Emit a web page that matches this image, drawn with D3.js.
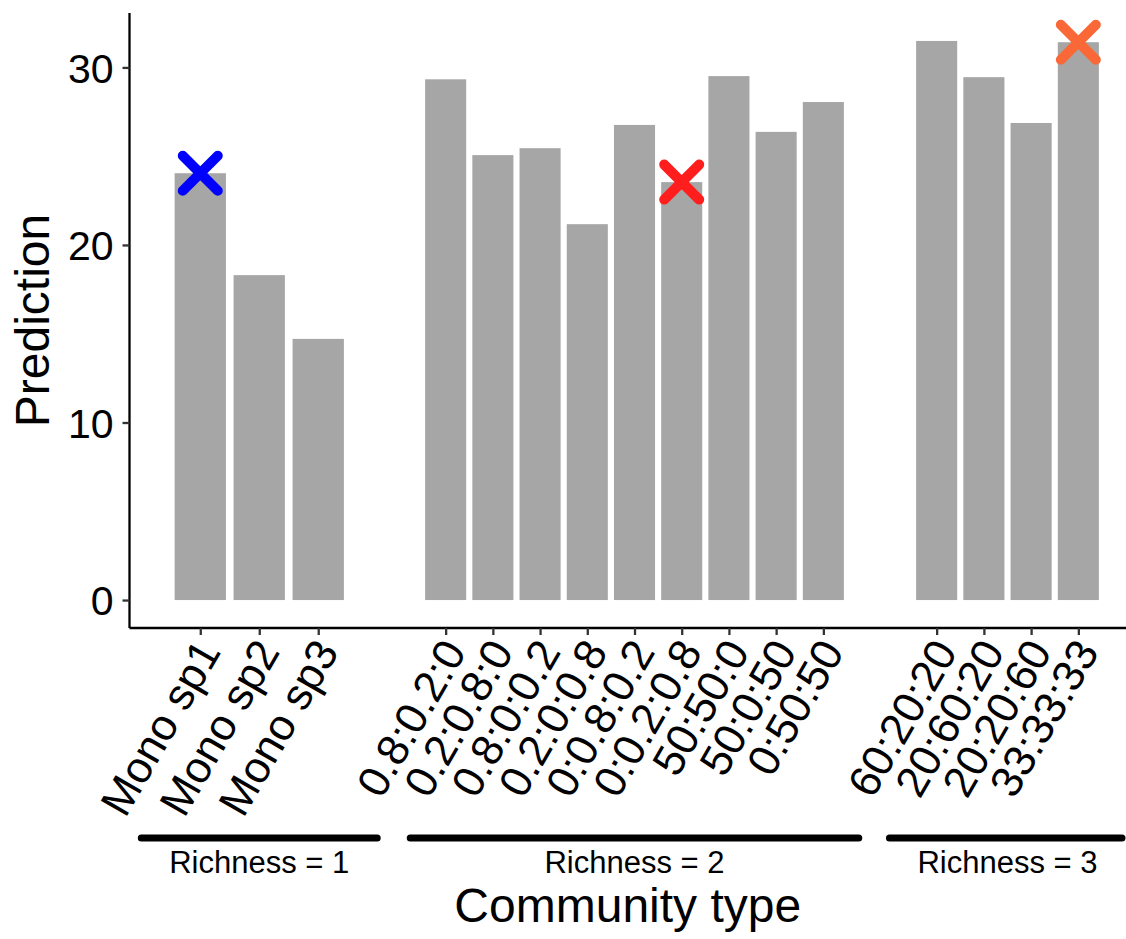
<!DOCTYPE html>
<html>
<head>
<meta charset="utf-8">
<script src="https://cdn.jsdelivr.net/npm/d3@7/dist/d3.min.js"></script>
<style>
  html, body { margin: 0; padding: 0; background: #fff; }
  svg { display: block; font-family: "Liberation Sans", Arial, sans-serif; }
</style>
</head>
<body>
<svg id="chart" width="1126" height="939"></svg>
<script>
// ---- data ----
const groupLabels = ["Richness = 1", "Richness = 2", "Richness = 3"];
const categories1 = ["Mono sp1", "Mono sp2", "Mono sp3"];
const values1 = [24.04, 18.30, 14.71];
const categories2 = ["0.8:0.2:0", "0.2:0.8:0", "0.8:0:0.2", "0.2:0:0.8", "0:0.8:0.2", "0:0.2:0.8", "50:50:0", "50:0:50", "0:50:50"];
const values2 = [29.33, 25.06, 25.45, 21.17, 26.76, 23.54, 29.51, 26.37, 28.05];
const categories3 = ["60:20:20", "20:60:20", "20:20:60", "33:33:33"];
const values3 = [31.49, 29.45, 26.87, 31.42];
const markerGroups = [0, 1, 2];
const markerCategories = ["Mono sp1", "0:0.2:0.8", "33:33:33"];
const markerValues = [24.04, 23.54, 31.42];
const markerColors = ["#0000FF", "#FF1E1E", "#FA6838"];
const yTicks = [0, 10, 20, 30];
const yTitle = "Prediction";
const xTitle = "Community type";

// ---- layout ----
const W = 1126, H = 939;
const plotLeft = 129.5, plotTop = 13, plotBottom = 628;
const panelEdges = [129.5, 389, 880, 1135];
const bracketExt = [1.0, 0.75, 1.0];   // bracket overhang in category steps
const barFrac = 0.87;

const svg = d3.select("#chart");

const allValues = values1.concat(values2, values3);
const vmax = d3.max(allValues);
const y = d3.scaleLinear()
  .domain([-0.05 * vmax, vmax * 1.05])
  .range([plotBottom, plotTop]);

const groups = [
  { cats: categories1, vals: values1 },
  { cats: categories2, vals: values2 },
  { cats: categories3, vals: values3 }
];
groups.forEach((g, i) => {
  g.x = d3.scalePoint().domain(g.cats).range([panelEdges[i], panelEdges[i + 1]]).padding(1.2);
  g.bw = g.x.step() * barFrac;
});

// bars
groups.forEach((g, i) => {
  svg.append("g").selectAll("rect")
    .data(g.cats.map((c, j) => ({ c, v: g.vals[j] })))
    .join("rect")
    .attr("x", d => g.x(d.c) - g.bw / 2)
    .attr("width", g.bw)
    .attr("y", d => y(d.v))
    .attr("height", d => y(0) - y(d.v))
    .attr("fill", "#A6A6A6");
});

// markers (X)
const mk = 17.5;
markerGroups.forEach((gi, k) => {
  const g = groups[gi];
  const cx = g.x(markerCategories[k]);
  const cy = y(markerValues[k]);
  svg.append("path")
    .attr("d", `M${cx - mk},${cy - mk}L${cx + mk},${cy + mk}M${cx - mk},${cy + mk}L${cx + mk},${cy - mk}`)
    .attr("stroke", markerColors[k])
    .attr("stroke-width", 10)
    .attr("stroke-linecap", "round")
    .attr("fill", "none");
});

// y axis
const yAxis = d3.axisLeft(y).tickValues(yTicks).tickSize(7).tickPadding(9).tickFormat(d3.format("d"));
const gy = svg.append("g").attr("transform", `translate(${plotLeft},0)`).call(yAxis);
gy.select(".domain").attr("d", `M0,${plotTop}V${plotBottom}`).attr("stroke", "#000").attr("stroke-width", 2.3);
gy.selectAll(".tick line").attr("stroke", "#333").attr("stroke-width", 2.3);
gy.selectAll(".tick text").attr("font-size", 41).attr("fill", "#000")
  .attr("font-family", "'Liberation Sans', Arial, sans-serif").attr("dy", "0.36em");

// x axes per panel
groups.forEach((g, i) => {
  const xa = d3.axisBottom(g.x).tickSize(7).tickSizeOuter(0);
  const gx = svg.append("g").attr("transform", `translate(0,${plotBottom})`).call(xa);
  gx.select(".domain").attr("d", `M${panelEdges[i]},0H${Math.min(panelEdges[i + 1], W)}`)
    .attr("stroke", "#000").attr("stroke-width", 2.3);
  gx.selectAll(".tick line").attr("stroke", "#333").attr("stroke-width", 2.3);
  gx.selectAll(".tick text")
    .attr("font-size", 44).attr("fill", "#000")
    .attr("font-family", "'Liberation Sans', Arial, sans-serif")
    .attr("text-anchor", "end")
    .attr("x", 0).attr("y", 0).attr("dy", "0.71em")
    .attr("transform", "translate(-6,8) rotate(-60)");

  // bracket line + label
  const first = g.x(g.cats[0]), last = g.x(g.cats[g.cats.length - 1]);
  const x1 = first - bracketExt[i] * g.x.step();
  const x2 = Math.min(last + bracketExt[i] * g.x.step(), W - 4);
  svg.append("line")
    .attr("x1", x1).attr("x2", x2).attr("y1", 838).attr("y2", 838)
    .attr("stroke", "#000").attr("stroke-width", 7).attr("stroke-linecap", "round");
  svg.append("text")
    .attr("x", (first + last) / 2).attr("y", 873)
    .attr("text-anchor", "middle").attr("font-size", 31).attr("fill", "#000")
    .text(groupLabels[i]);
});

// axis titles
svg.append("text")
  .attr("transform", `translate(49,${(plotTop + plotBottom) / 2}) rotate(-90)`)
  .attr("text-anchor", "middle").attr("font-size", 48).attr("fill", "#000")
  .text(yTitle);
svg.append("text")
  .attr("x", (plotLeft + W) / 2).attr("y", 922)
  .attr("text-anchor", "middle").attr("font-size", 48).attr("fill", "#000")
  .text(xTitle);
</script>
</body>
</html>
